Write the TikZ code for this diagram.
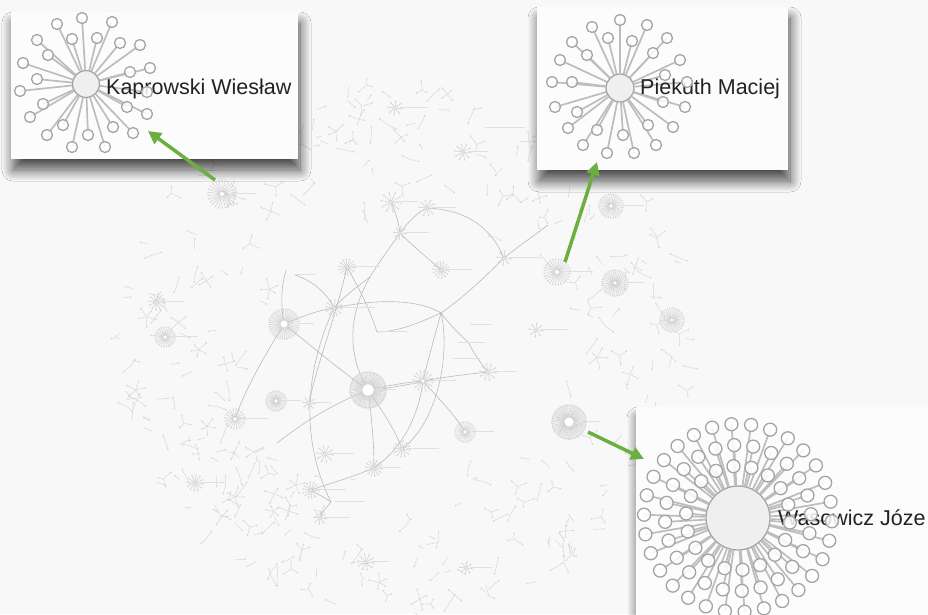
\documentclass[tikz,border=0pt]{standalone}
\usepackage{fontspec}
\setmainfont{Liberation Sans}
\usetikzlibrary{shadows.blur,arrows.meta}
\definecolor{bgc}{HTML}{F8F8F8}
\definecolor{boxc}{HTML}{FCFCFC}
\definecolor{spokec}{HTML}{BDBDBD}
\definecolor{leafc}{HTML}{A4A4A4}
\definecolor{hubc}{HTML}{EFEFEF}
\definecolor{netc}{HTML}{D0D0D0}
\definecolor{fragc}{HTML}{D8D8D8}
\definecolor{labc}{HTML}{E0E0E0}
\definecolor{greenc}{HTML}{6BAF3F}
\definecolor{txtc}{HTML}{222222}
\newcommand\bgfan[5]{%
  \pgfmathsetmacro{\stepang}{360/#4}%
  \foreach \q in {1,...,#4}{%
    \draw[netline] (#1,#2) -- ++({\q*\stepang+7}:#3);
    \fill[fragc] (#1,#2) ++({\q*\stepang+7}:#3) circle (0.9);}
  \draw[netline,fill=white] (#1,#2) circle (#5);}
\newcommand\bglab[3]{\fill[labc] (#1,#2) rectangle ++(#3,1.3);}
\begin{document}
\begin{tikzpicture}[x=1pt,y=-1pt,
  callout/.style={fill=boxc, draw=none,
    blur shadow={shadow xshift=2pt, shadow yshift=-11pt, shadow blur radius=11pt, shadow blur steps=14, shadow opacity=70}},
  spoke/.style={draw=spokec, line width=1.7pt},
  leafnode/.style={circle, draw=leafc, fill=white, fill opacity=0.85, line width=1.3pt, inner sep=0pt, minimum size=11pt},
  bigleaf/.style={leafnode, minimum size=13pt},
  hubnode/.style={circle, draw=leafc, fill=hubc, line width=1.3pt, inner sep=0pt},
  namelabel/.style={font=\fontsize{21.5}{24}\selectfont, text=txtc, inner sep=0pt, anchor=base west},
  pointer/.style={draw=greenc, line width=3.5pt, -{Triangle[length=13pt,width=13pt]}},
  netline/.style={draw=netc, line width=0.5pt},
  netcurve/.style={draw=netc!90!black, line width=0.6pt},
  fragline/.style={draw=fragc, line width=0.5pt}
]
\useasboundingbox (0,0) rectangle (928,614);
\clip (0,0) rectangle (928,614);
\fill[bgc] (0,0) rectangle (928,614);

% ---------- scattered background fragments ----------
\pgfmathsetseed{7}
\foreach \k in {1,...,330}{
  \pgfmathsetmacro{\ang}{360*rnd}
  \pgfmathsetmacro{\rr}{0.45+0.55*sqrt(rnd)}
  \pgfmathsetmacro{\px}{405+290*\rr*cos(\ang)}
  \pgfmathsetmacro{\py}{345+268*\rr*sin(\ang)}
  \pgfmathsetmacro{\rot}{360*rnd}
  \pgfmathtruncatemacro{\ns}{1+5.5*rnd*rnd}
  \foreach \j in {1,...,\ns}{
    \pgfmathsetmacro{\aa}{\rot+\j*(360/\ns)+25*rnd}
    \pgfmathsetmacro{\ll}{5+6*rnd}
    \draw[fragline] (\px,\py) -- ++(\aa:\ll);
    \fill[fragc] (\px,\py) ++(\aa:\ll) circle (0.9);
  }
}

% ---------- main network curves ----------
\draw[netcurve] (284,324) .. controls (305,315) and (320,310) .. (334,308);
\draw[netcurve] (334,308) .. controls (380,298) and (420,300) .. (441,313);
\draw[netcurve] (334,308) .. controls (345,295) and (360,285) .. (370,277);
\draw[netcurve] (370,277) .. controls (380,260) and (392,245) .. (400,233);
\draw[netcurve] (400,233) .. controls (408,222) and (418,212) .. (427,208);
\draw[netcurve] (400,233) .. controls (398,220) and (395,210) .. (391,202);
\draw[netcurve] (427,208) .. controls (470,210) and (492,230) .. (504,258);
\draw[netcurve] (504,258) .. controls (482,280) and (460,300) .. (441,313);
\draw[netcurve] (400,233) .. controls (415,248) and (430,260) .. (441,270);
\draw[netcurve] (441,313) .. controls (450,325) and (460,335) .. (468,342);
\draw[netcurve] (441,313) .. controls (435,335) and (428,360) .. (423,381);
\draw[netcurve] (347,267) .. controls (360,290) and (370,310) .. (377,332);
\draw[netcurve] (377,332) .. controls (400,332) and (425,320) .. (441,313);
\draw[netcurve] (284,324) .. controls (310,345) and (340,370) .. (368,390);
\draw[netcurve] (284,324) .. controls (262,360) and (245,390) .. (235,419);
\draw[netcurve] (368,390) .. controls (390,385) and (410,382) .. (423,381);
\draw[netcurve] (368,391) .. controls (390,388) and (410,384) .. (423,382);
\draw[netcurve] (423,381) .. controls (440,400) and (455,415) .. (465,432);
\draw[netcurve] (423,381) .. controls (450,376) and (470,374) .. (488,372);
\draw[netcurve] (368,390) .. controls (385,415) and (395,430) .. (402,449);
\draw[netcurve] (368,390) .. controls (372,420) and (374,445) .. (374,468);
\draw[netcurve] (423,381) .. controls (418,420) and (400,450) .. (374,468);
\draw[netcurve] (374,468) .. controls (350,478) and (328,484) .. (311,490);
\draw[netcurve] (311,490) .. controls (318,494) and (325,498) .. (331,502);
\draw[netcurve] (331,502) .. controls (326,508) and (322,512) .. (320,518);
\draw[netcurve] (368,390) .. controls (330,405) and (300,425) .. (277,443);
\draw[netcurve] (334,308) .. controls (305,370) and (300,440) .. (331,502);
\draw[netcurve] (370,277) .. controls (345,320) and (350,360) .. (368,390);
\draw[netcurve] (347,267) .. controls (335,320) and (318,360) .. (309,403);
\draw[netcurve] (441,313) .. controls (450,350) and (440,420) .. (402,449);
\draw[netcurve] (334,308) .. controls (325,290) and (310,280) .. (295,275);
\draw[netcurve] (284,324) .. controls (280,300) and (282,285) .. (286,270);
\draw[netcurve] (468,342) .. controls (475,355) and (482,365) .. (488,372);
\draw[netcurve] (504,258) .. controls (520,245) and (535,235) .. (548,225);

% ---------- background hubs ----------
\bgfan{222}{194}{14}{26}{2.5}
\bgfan{557}{272}{13}{28}{2.5}
\bgfan{569}{422}{17}{60}{5}
\bgfan{368}{390}{18}{70}{6}
\bgfan{284}{324}{15}{40}{4}
\bgfan{423}{381}{10}{16}{2}
\bgfan{611}{206}{12}{30}{2}
\bgfan{615}{283}{13}{34}{2}
\bgfan{672}{320}{12}{30}{2}
\bgfan{165}{337}{10}{24}{2}
\bgfan{157}{302}{8}{12}{1.5}
\bgfan{276}{401}{10}{28}{2}
\bgfan{235}{419}{10}{20}{2}
\bgfan{465}{432}{10}{24}{2}
\bgfan{195}{483}{8}{12}{1.5}
\bgfan{311}{490}{8}{14}{1.5}
\bgfan{374}{468}{8}{14}{1.5}
\bgfan{402}{449}{8}{12}{1.5}
\bgfan{325}{454}{8}{10}{1.5}
\bgfan{334}{308}{8}{12}{1.5}
\bgfan{347}{267}{8}{14}{1.5}
\bgfan{400}{233}{6}{8}{1.5}
\bgfan{427}{208}{8}{10}{1.5}
\bgfan{391}{202}{10}{10}{1.5}
\bgfan{441}{270}{8}{14}{1.5}
\bgfan{504}{258}{7}{8}{1.5}
\bgfan{488}{372}{8}{10}{1.5}
\bgfan{463}{152}{8}{10}{1.5}
\bgfan{366}{562}{8}{10}{1.5}
\bgfan{466}{568}{6}{8}{1.5}
\bgfan{395}{108}{7}{8}{1.5}
\bgfan{536}{330}{7}{8}{1.5}
\bgfan{309}{403}{6}{8}{1.5}
\bgfan{320}{518}{6}{8}{1.5}
% tiny illegible labels
\bglab{228}{193}{28}
\bglab{563}{271}{30}
\bglab{576}{421}{24}
\bglab{374}{389}{22}
\bglab{290}{323}{24}
\bglab{428}{380}{28}
\bglab{616}{205}{28}
\bglab{620}{282}{24}
\bglab{170}{336}{28}
\bglab{161}{301}{22}
\bglab{240}{418}{28}
\bglab{281}{400}{20}
\bglab{470}{431}{24}
\bglab{200}{482}{24}
\bglab{316}{489}{30}
\bglab{379}{467}{22}
\bglab{407}{448}{32}
\bglab{330}{453}{24}
\bglab{339}{307}{36}
\bglab{352}{266}{28}
\bglab{405}{232}{24}
\bglab{432}{207}{24}
\bglab{396}{201}{22}
\bglab{446}{269}{26}
\bglab{509}{257}{32}
\bglab{493}{371}{24}
\bglab{468}{151}{20}
\bglab{371}{561}{18}
\bglab{470}{567}{22}
\bglab{400}{107}{28}
\bglab{541}{329}{26}
\bglab{313}{402}{18}
\bglab{324}{517}{26}
\bglab{377}{331}{30}
\bglab{457}{342}{28}
\bglab{453}{358}{28}
\bglab{470}{324}{22}
\bglab{485}{127}{40}
\bglab{335}{501}{30}
\bglab{295}{274}{20}

% ---------- callout boxes ----------
\fill[callout] (11,12) rectangle (298,159);
\fill[callout] (537,7) rectangle (788,170);
\fill[callout] (636,407) rectangle (945,630);

% box 1: Kaprowski Wiesław
\node[hubnode, minimum size=27pt] (h1) at (86,84) {};
\foreach \x/\y [count=\i] in {57/24,82/18,112/22,37/40,72/39,97/38,120/43,140/45,48/55,23/63,130/72,150/68,37/79,20/91,147/92,43/104,127/107,30/117,147/114,63/125,113/127,47/135,88/135,133/133,72/147,105/147}{
  \coordinate (a\i) at (\x,\y);
  \draw[spoke] (h1) -- (a\i);
}
\node[namelabel] (t1) at (106,94.5) {Kaprowski Wiesław};
\foreach \i in {1,...,26}{\node[leafnode] (la\i) at (a\i) {};}

% box 2: Piekuth Maciej
\node[hubnode, minimum size=28pt] (h2) at (620,88) {};
\foreach \x/\y [count=\i] in {620/20,592/27,647/25,572/42,608/38,632/41,667/38,587/55,653/53,560/60,680/60,665/75,687/82,552/82,572/82,663/102,685/107,555/107,577/112,648/125,673/127,568/128,597/130,623/135,583/145,607/153,634/153,656/145}{
  \coordinate (b\i) at (\x,\y);
  \draw[spoke] (h2) -- (b\i);
}
\node[namelabel] (t2) at (640,94) {Piekuth Maciej};
\foreach \i in {1,...,28}{\node[leafnode] (lb\i) at (b\i) {};}

% box 3: Wasowicz Józe
\node[hubnode, minimum size=64pt] (h3) at (738,518) {};
\foreach \i in {1,...,18}{
  \coordinate (c\i) at ({738+52*cos(\i*20+5)},{518+52*sin(\i*20+5)});
  \draw[spoke] (h3) -- (c\i);}
\foreach \i in {1,...,24}{
  \coordinate (d\i) at ({738+73*cos(\i*15+12)},{518+73*sin(\i*15+12)});
  \draw[spoke] (h3) -- (d\i);}
\foreach \i in {1,...,30}{
  \coordinate (e\i) at ({738+94*cos(\i*12+2)},{518+94*sin(\i*12+2)});
  \draw[spoke] (h3) -- (e\i);}
\node[namelabel] (t3) at (778,525) {Wasowicz Józe};
\foreach \i in {1,...,18}{\node[bigleaf] (lc\i) at (c\i) {};}
\foreach \i in {1,...,24}{\node[bigleaf] (ld\i) at (d\i) {};}
\foreach \i in {1,...,30}{\node[bigleaf] (le\i) at (e\i) {};}

% ---------- green pointers ----------
\coordinate (p1s) at (215,180); \coordinate (p1e) at (148,131);
\coordinate (p2s) at (565,262); \coordinate (p2e) at (597,162);
\coordinate (p3s) at (588,432); \coordinate (p3e) at (644,459);
\draw[pointer] (p1s) -- (p1e);
\draw[pointer] (p2s) -- (p2e);
\draw[pointer] (p3s) -- (p3e);
\end{tikzpicture}
\end{document}
